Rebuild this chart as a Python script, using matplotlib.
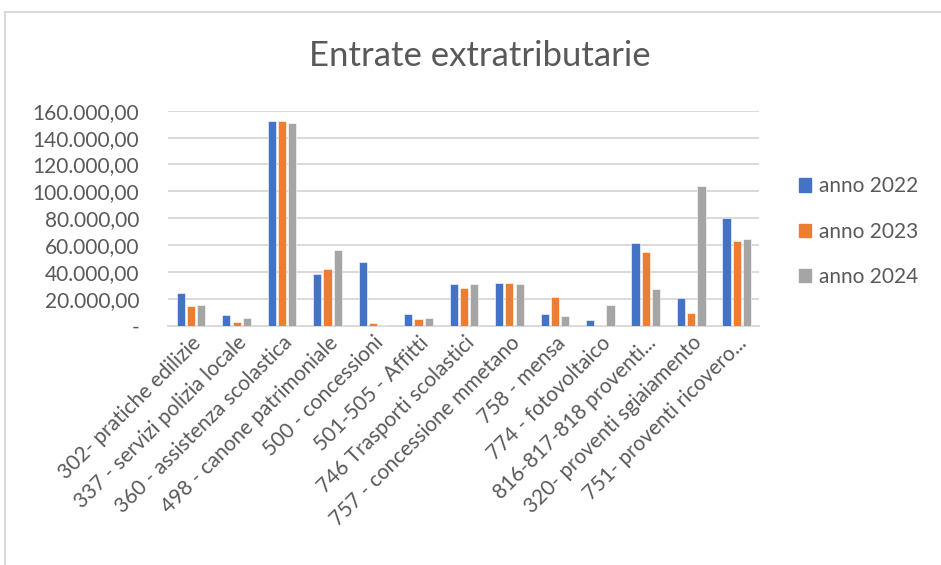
import matplotlib
matplotlib.use('Agg')
import matplotlib.pyplot as plt
import numpy as np
from matplotlib.ticker import FuncFormatter, MultipleLocator
from matplotlib.lines import Line2D

categories = [
    "302- pratiche edilizie",
    "337 - servizi polizia locale",
    "360 - assistenza scolastica",
    "498 - canone patrimoniale",
    "500 - concessioni",
    "501-505 - Affitti",
    "746 Trasporti scolastici",
    "757 - concessione mmetano",
    "758 - mensa",
    "774 - fotovoltaico",
    "816-817-818 proventi...",
    "320- proventi sgiaiamento",
    "751- proventi ricovero...",
]
series_names = ["anno 2022", "anno 2023", "anno 2024"]
anno_2022 = [24100, 7900, 152300, 38700, 47200, 8900, 31000, 31700, 8700, 4400, 61500, 20600, 80100]
anno_2023 = [14600, 3000, 152300, 42000, 2000, 4700, 28300, 31700, 21300, 500, 54600, 9400, 63000]
anno_2024 = [15400, 5500, 150600, 56300, 400, 5500, 31000, 30800, 6900, 15400, 27300, 103700, 64700]
colors = ["#4472C4", "#ED7D31", "#A5A5A5"]

plt.rcParams['font.family'] = ['Lato', 'DejaVu Sans']
text_col = "#595959"

fig = plt.figure(figsize=(9.41, 5.65), dpi=100)
ax = fig.add_axes([0.179, 0.4235, 0.628, 0.3805])

x = np.arange(len(categories))
w = 0.18
off = 0.225
for i, (vals, name) in enumerate(zip([anno_2022, anno_2023, anno_2024], series_names)):
    ax.bar(x + (i - 1) * off, vals, width=w, color=colors[i], label=name,
           edgecolor='white', linewidth=0.4, zorder=3)

ax.set_xlim(-0.5, len(categories) - 0.5)
ax.set_ylim(0, 160000)
ax.yaxis.set_major_locator(MultipleLocator(20000))


def it_fmt(v, pos):
    if v == 0:
        return "-"
    s = "{:,.2f}".format(v)
    return s.replace(",", "X").replace(".", ",").replace("X", ".")


ax.yaxis.set_major_formatter(FuncFormatter(it_fmt))
ax.grid(axis='y', color='#D9D9D9', linewidth=1.4, zorder=0)
for s in ['top', 'right', 'left']:
    ax.spines[s].set_visible(False)
ax.spines['bottom'].set_color('#D9D9D9')
ax.spines['bottom'].set_linewidth(1.4)
ax.tick_params(axis='both', length=0, colors=text_col, labelsize=15)
ax.tick_params(axis='y', pad=21)
ax.set_xticks(x)
ax.set_xticklabels(categories, rotation=45, ha='right', rotation_mode='anchor', fontsize=15, color=text_col)
ax.tick_params(axis='x', pad=5)

fig.text(0.51, 0.9, "Entrate extratributarie", ha='center', va='center', fontsize=25, color=text_col)

handles = [plt.Rectangle((0, 0), 1, 1, color=c) for c in colors]
fig.legend(handles, series_names, loc='center left', bbox_to_anchor=(0.829, 0.59),
           frameon=False, fontsize=15, labelcolor=text_col, handlelength=0.6, handleheight=0.6,
           handletextpad=0.35, labelspacing=1.22)

# chart border (left and top edges visible)
fig.add_artist(Line2D([0.0055, 0.0055], [0, 0.979], color='#D9D9D9', linewidth=1.5))
fig.add_artist(Line2D([0.0055, 1.0], [0.979, 0.979], color='#D9D9D9', linewidth=1.5))

fig.savefig('out.png', dpi=100, facecolor='white')
